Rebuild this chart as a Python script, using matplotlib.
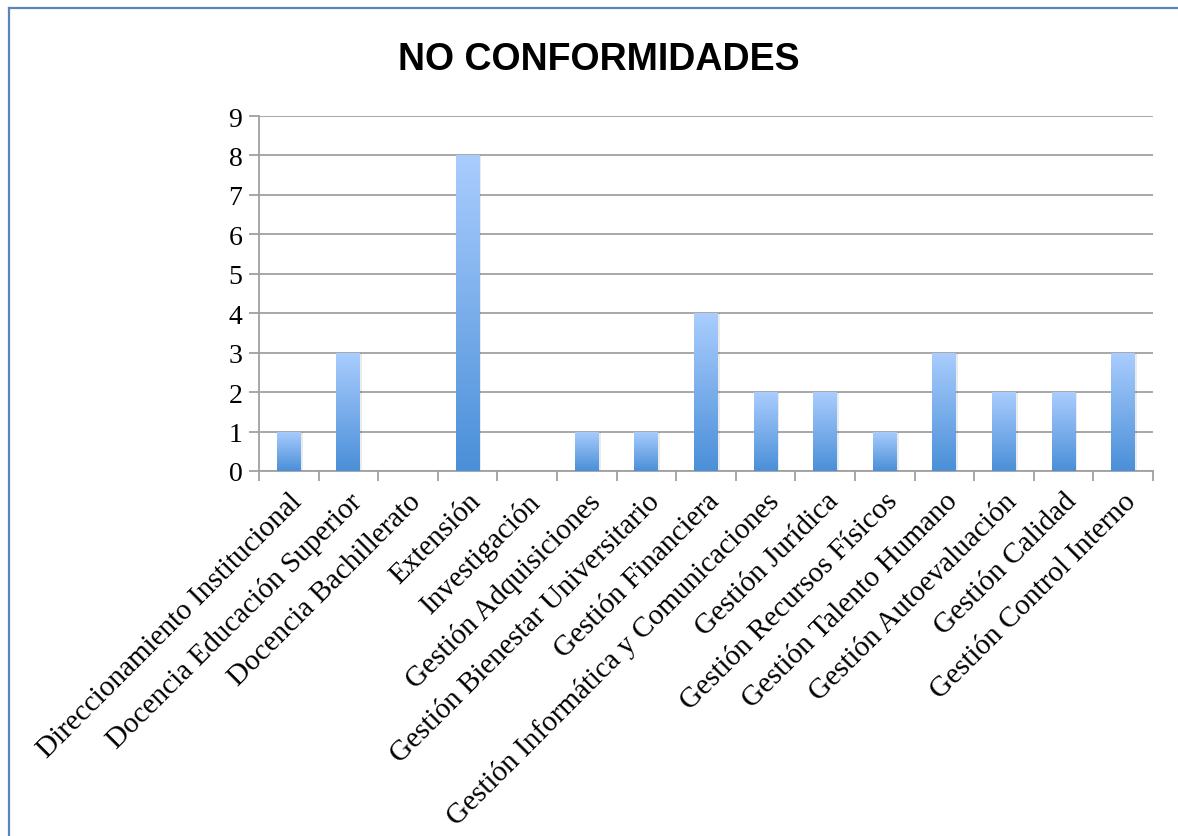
import numpy as np
import matplotlib.pyplot as plt
from matplotlib.lines import Line2D
from matplotlib.colors import LinearSegmentedColormap

categories = ["Direccionamiento Institucional", "Docencia Educación Superior",
              "Docencia Bachillerato", "Extensión", "Investigación",
              "Gestión Adquisiciones", "Gestión Bienestar Universitario",
              "Gestión Financiera", "Gestión Informática y Comunicaciones",
              "Gestión Jurídica", "Gestión Recursos Físicos",
              "Gestión Talento Humano", "Gestión Autoevaluación",
              "Gestión Calidad", "Gestión Control Interno"]
values = [1, 3, 0, 8, 0, 1, 1, 4, 2, 2, 1, 3, 2, 2, 3]
yticks = list(range(10))

fig = plt.figure(figsize=(11.78, 8.37), dpi=100)
ax = fig.add_axes([259/1178, 1-472/837, (1153-259)/1178, (472-117)/837])

x = np.arange(len(categories))
bars = ax.bar(x, values, width=0.4, facecolor='none', edgecolor='none', zorder=3)

# vertical gradient: light top, darker bottom
grad = np.linspace(0, 1, 256).reshape(-1, 1)
cmap = LinearSegmentedColormap.from_list('g', ['#4a8fd8', '#aacdfe'])
for b in bars:
    h = b.get_height()
    if h <= 0:
        continue
    x0 = b.get_x()
    w = b.get_width()
    # soft shadow
    ax.bar(x0 + w/2 + 0.03, h, width=w, color='#000000', alpha=0.08, zorder=2)
    im = ax.imshow(grad, extent=[x0, x0 + w, 0, h], origin='lower', cmap=cmap,
                   aspect='auto', zorder=3)
    im.set_clip_path(b)

ax.set_xlim(-0.5, len(categories) - 0.5)
ax.set_ylim(0, 9)
ax.set_aspect('auto')
ax.set_yticks(yticks)
ax.yaxis.grid(True, color='#a0a0a0', linewidth=1.3, zorder=1)
ax.set_axisbelow(True)

ax.set_xticks(np.arange(-0.5, len(categories), 1.0), minor=False)
ax.set_xticklabels([])
ax.set_xticks(x, minor=True)
ax.set_xticklabels(categories, minor=True, rotation=45, ha='right',
                   rotation_mode='anchor', family='Liberation Serif', fontsize=21)
ax.tick_params(axis='x', which='minor', length=0, pad=12)
ax.tick_params(axis='x', which='major', length=7, width=1.3, color='#a0a0a0')
ax.tick_params(axis='y', length=7, width=1.3, color='#a0a0a0', labelsize=20, pad=5)
for lbl in ax.get_yticklabels():
    lbl.set_family('Liberation Serif')

for s in ['top', 'right']:
    ax.spines[s].set_visible(False)
for s in ['left', 'bottom']:
    ax.spines[s].set_color('#a0a0a0')
    ax.spines[s].set_linewidth(1.3)

fig.text(599/1178, 1-60/837, 'NO CONFORMIDADES', ha='center', va='center',
         family='Liberation Sans', fontweight='bold', fontsize=27)

# frame lines (top and left)
fig.add_artist(Line2D([9/1178, 1], [1-9/837, 1-9/837], color='#5b84b8', linewidth=1.6,
                      transform=fig.transFigure))
fig.add_artist(Line2D([9/1178, 9/1178], [0, 1-9/837], color='#5b84b8', linewidth=1.6,
                      transform=fig.transFigure))

fig.savefig('out.png', dpi=100)
